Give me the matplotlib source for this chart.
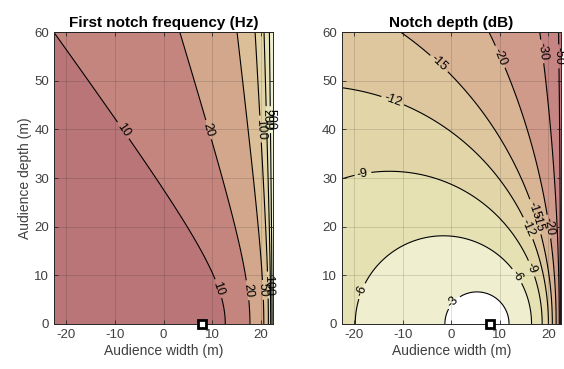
import numpy as np
import matplotlib
matplotlib.use("Agg")
import matplotlib.pyplot as plt

plt.rcParams['font.family'] = ['Liberation Sans', 'DejaVu Sans']
plt.rcParams['axes.unicode_minus'] = False

# geometry (metres)
speaker_x = 8.0       # square marker on the front edge
speaker_height = 6.5  # height of speaker above listener plane
wall_x = 22.5         # side wall (right edge of the audience area)
sound_speed = 343.0

width_lim = [-22.5, 22.5]
depth_lim = [0, 60]
x_ticks = [-20, -10, 0, 10, 20]
y_ticks = [0, 10, 20, 30, 40, 50, 60]

freq_levels = [10, 20, 50, 100, 200, 500]
freq_colors = ['#b97577', '#c5857f', '#d2a78c', '#dbbf98', '#e1d3a6', '#e7e2b6', '#f0efcf']

depth_levels = [-50, -30, -20, -15, -12, -9, -6, -3]
depth_colors = ['#bd7179', '#c68482', '#cf9a8a', '#d8b394', '#dec79f', '#e2d6a9', '#e6e1b3',
                '#efeecf', '#ffffff']

# where the contour labels sit in the reference
freq_label_spots = [(-8, 40), (10.5, 7), (9.5, 40), (17.8, 7), (18.8, 40), (20.4, 7),
                    (20.9, 42), (21.3, 8), (21.7, 42)]
depth_label_spots = [(-3, 53), (-12, 46), (-18, 30), (15.5, 11), (-19, 7), (13, 9.5),
                     (1, 4), (12.5, 56), (18.5, 56), (16, 23), (16.5, 20),
                     (18.5, 21), (20, 20)]
depth_edge_label_spot = (21.6, 55)

# audience grid, direct path and path via the side wall (image source)
x = np.linspace(width_lim[0], width_lim[1] - 1e-3, 500)
y = np.linspace(depth_lim[0], depth_lim[1], 600)
X, Y = np.meshgrid(x, y)
image_x = 2 * wall_x - speaker_x
d_direct = np.sqrt((X - speaker_x)**2 + Y**2 + speaker_height**2)
d_reflect = np.sqrt((X - image_x)**2 + Y**2 + speaker_height**2)

notch_freq = sound_speed / (2 * (d_reflect - d_direct))
notch_freq = np.minimum(notch_freq, 1e5)
notch_depth = 20 * np.log10(1 - d_direct / d_reflect)
notch_depth = np.maximum(notch_depth, -300)

fig = plt.figure(figsize=(5.64, 3.69), dpi=100)
ax1 = fig.add_axes([0.096, 0.122, 0.388, 0.791])
ax2 = fig.add_axes([0.606, 0.122, 0.388, 0.791])


def style_axes(ax, title):
    ax.set_xlim(width_lim)
    ax.set_ylim(depth_lim)
    ax.set_xticks(x_ticks)
    ax.set_yticks(y_ticks)
    ax.tick_params(direction='in', length=3, width=0.6, labelsize=9.5, colors='#262626',
                   top=True, right=True, labelcolor='#404040')
    ax.grid(True, color='k', alpha=0.15, linewidth=0.6)
    ax.set_axisbelow(False)
    for sp in ax.spines.values():
        sp.set_linewidth(0.7)
        sp.set_color('#262626')
    ax.set_title(title, fontsize=11, fontweight='bold', pad=4)
    ax.set_xlabel('Audience width (m)', fontsize=10, color='#404040', labelpad=2)
    ax.plot([speaker_x], [0], marker='s', markersize=5.5, markerfacecolor='white',
            markeredgecolor='black', markeredgewidth=2.0, clip_on=False, zorder=10)


# left: first notch frequency
ax1.contourf(X, Y, notch_freq, levels=[0] + freq_levels + [1e6], colors=freq_colors)
cs1 = ax1.contour(X, Y, notch_freq, levels=freq_levels, colors='k', linewidths=0.8,
                  linestyles='solid')
ax1.clabel(cs1, fmt='%d', fontsize=9, inline=True, inline_spacing=3,
           manual=freq_label_spots)
style_axes(ax1, 'First notch frequency (Hz)')
ax1.set_ylabel('Audience depth (m)', fontsize=10, color='#404040', labelpad=2)

# right: notch depth
ax2.contourf(X, Y, notch_depth, levels=[-1000] + depth_levels + [1], colors=depth_colors)
cs2 = ax2.contour(X, Y, notch_depth, levels=depth_levels, colors='k', linewidths=0.8,
                  linestyles='solid')
ax2.clabel(cs2, fmt='%d', fontsize=9, inline=True, inline_spacing=3,
           manual=depth_label_spots)
# the -50 line hugs the wall; label it on its own so it is not lost
cs2.add_label_near(*depth_edge_label_spot, inline=True, inline_spacing=3,
                   transform=ax2.transData)
style_axes(ax2, 'Notch depth (dB)')

for t in cs1.labelTexts + cs2.labelTexts:
    t.set_clip_on(False)

fig.savefig('out.png', dpi=100)
